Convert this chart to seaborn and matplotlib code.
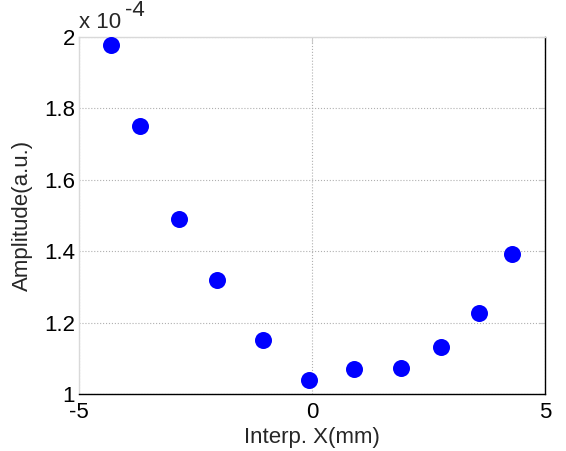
import matplotlib
matplotlib.use("Agg")
import matplotlib.pyplot as plt
import seaborn as sns
import pandas as pd

# values (amplitude in units of 1e-4)
interp_x = [-4.31, -3.69, -2.86, -2.04, -1.06, -0.07, 0.89, 1.90, 2.77, 3.59, 4.29]
amplitude = [1.978, 1.750, 1.489, 1.319, 1.151, 1.038, 1.070, 1.072, 1.131, 1.226, 1.393]
x_ticks = [-5, 0, 5]
y_ticks = [1, 1.2, 1.4, 1.6, 1.8, 2]

df = pd.DataFrame({"x": interp_x, "amp": amplitude})

sns.set_style("white")
plt.rcParams["font.family"] = ["Liberation Sans", "DejaVu Sans"]
plt.rcParams["axes.unicode_minus"] = False

fig = plt.figure(figsize=(5.66, 4.51), dpi=100)
ax = fig.add_axes([0.1396, 0.1264, 0.8234, 0.7916])

sns.scatterplot(data=df, x="x", y="amp", ax=ax, s=150, color="#0000ff",
                edgecolor="#0000ff", linewidth=0, zorder=3)

ax.set_xlim(-5, 5)
ax.set_ylim(1, 2)
ax.set_xticks(x_ticks)
ax.set_xticklabels(["-5", "0", "5"])
ax.set_yticks(y_ticks)
ax.set_yticklabels(["1", "1.2", "1.4", "1.6", "1.8", "2"])
ax.tick_params(direction="in", length=4, labelsize=16, colors="#c8c8c8",
               labelcolor="black", top=True, right=True, pad=3)
ax.tick_params(axis="x", pad=6)
ax.grid(True, linestyle=":", color="#b0b0b0", linewidth=0.8)

ax.spines["left"].set_color("#d9d9d9")
ax.spines["top"].set_color("#d9d9d9")
ax.spines["bottom"].set_color("black")
ax.spines["right"].set_color("black")
for s in ax.spines.values():
    s.set_linewidth(1.0)

ax.set_xlabel("Interp. X(mm)", fontsize=16, labelpad=3)
ax.set_ylabel("Amplitude(a.u.)", fontsize=16, labelpad=8)
ax.text(0.0, 1.012, "x 10", transform=ax.transAxes, fontsize=16,
        ha="left", va="bottom")
ax.text(0.098, 1.045, "-4", transform=ax.transAxes, fontsize=16,
        ha="left", va="bottom")

fig.savefig("out.png", dpi=100)
